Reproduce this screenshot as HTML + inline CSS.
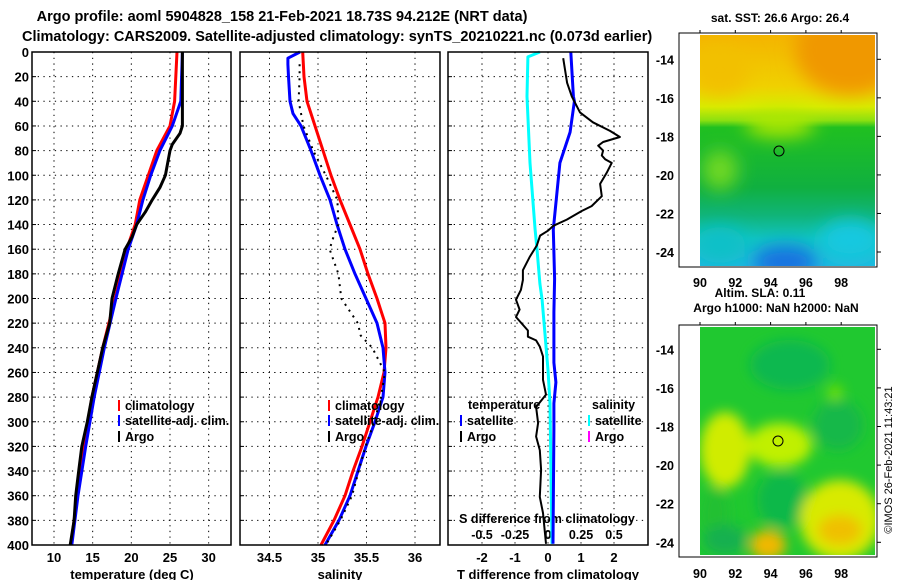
<!DOCTYPE html>
<html><head><meta charset="utf-8"><style>
body{margin:0;background:#fff;}
svg text{font-family:"Liberation Sans",sans-serif;font-weight:bold;fill:#000;}
</style></head><body>
<svg id="c" width="900" height="580" xmlns="http://www.w3.org/2000/svg">
<defs>
<filter id="blur" x="-20%" y="-20%" width="140%" height="140%"><feGaussianBlur stdDeviation="9"/></filter>
<filter id="blur2" x="-20%" y="-20%" width="140%" height="140%"><feGaussianBlur stdDeviation="6"/></filter>
<clipPath id="m1"><rect x="700" y="35" width="175" height="231"/></clipPath>
<clipPath id="m2"><rect x="700" y="327" width="175" height="228"/></clipPath>
<linearGradient id="sstg" x1="0" y1="0" x2="0" y2="1">
<stop offset="0" stop-color="#f4b400"/><stop offset="0.22" stop-color="#f0d000"/>
<stop offset="0.31" stop-color="#d8ec00"/><stop offset="0.37" stop-color="#8ce010"/>
<stop offset="0.40" stop-color="#20c020"/><stop offset="0.66" stop-color="#10b040"/>
<stop offset="0.78" stop-color="#10b478"/><stop offset="0.88" stop-color="#10c4c0"/>
<stop offset="1" stop-color="#20b8e0"/></linearGradient>
</defs>
<text x="282" y="21" font-size="14.5" text-anchor="middle">Argo profile: aoml 5904828_158 21-Feb-2021 18.73S 94.212E (NRT data)</text>
<text x="22" y="41" font-size="14.5">Climatology: CARS2009. Satellite-adjusted climatology: synTS_20210221.nc (0.073d earlier)</text>

<g id="p1"></g>
<g id="p2"></g>
<g id="p3"></g>

<g>
<text x="780" y="22" font-size="12" text-anchor="middle">sat. SST: 26.6 Argo: 26.4</text>
<g clip-path="url(#m1)">
<rect x="700" y="35" width="175" height="231" fill="url(#sstg)"/>
<g filter="url(#blur)">
<ellipse cx="850" cy="50" rx="55" ry="45" fill="#f09800"/>
<ellipse cx="720" cy="70" rx="30" ry="25" fill="#f2c000"/>
<ellipse cx="780" cy="125" rx="35" ry="12" fill="#b0e800"/>
<ellipse cx="720" cy="170" rx="18" ry="20" fill="#70d820"/>
<ellipse cx="785" cy="262" rx="32" ry="16" fill="#1470e0"/>
<ellipse cx="850" cy="240" rx="30" ry="20" fill="#18c8e0"/>
<ellipse cx="720" cy="245" rx="25" ry="18" fill="#10c0c8"/>
</g>
</g>
<rect x="679" y="33" width="198" height="234" fill="none" stroke="#000"/>
<circle cx="779" cy="151" r="5" fill="none" stroke="#000"/>
<g id="m1ax"></g>
</g>

<g>
<text x="760" y="297" font-size="12" text-anchor="middle">Altim. SLA: 0.11</text>
<text x="776" y="312" font-size="12" text-anchor="middle">Argo h1000: NaN h2000: NaN</text>
<g clip-path="url(#m2)">
<rect x="700" y="327" width="175" height="228" fill="#20c830"/>
<g filter="url(#blur2)">
<ellipse cx="790" cy="365" rx="40" ry="25" fill="#10b850"/>
<ellipse cx="780" cy="445" rx="32" ry="22" fill="#c0f000"/>
<ellipse cx="725" cy="450" rx="25" ry="38" fill="#d0ec00"/>
<ellipse cx="715" cy="515" rx="14" ry="28" fill="#20c030"/>
<ellipse cx="782" cy="500" rx="25" ry="28" fill="#10b848"/>
<ellipse cx="840" cy="520" rx="40" ry="40" fill="#d8ea00"/>
<ellipse cx="840" cy="530" rx="22" ry="15" fill="#f0c000"/>
<ellipse cx="768" cy="545" rx="18" ry="15" fill="#f0b800"/>
<ellipse cx="725" cy="540" rx="22" ry="15" fill="#18b050"/>
<ellipse cx="838" cy="425" rx="25" ry="25" fill="#18b848"/>
<ellipse cx="835" cy="393" rx="8" ry="8" fill="#70e000"/>
</g>
</g>
<rect x="679" y="325" width="198" height="232" fill="none" stroke="#000"/>
<circle cx="778" cy="441" r="5" fill="none" stroke="#000"/>
<g id="m2ax"></g>
</g>
<text transform="translate(892,460) rotate(-90)" font-size="11" style="font-weight:normal" text-anchor="middle">©IMOS 26-Feb-2021 11:43:21</text>
</svg>
<script>
// ---- data ----
const depthTicks=[0,20,40,60,80,100,120,140,160,180,200,220,240,260,280,300,320,340,360,380,400];
const tDepth=[0,40,60,80,100,120,140,160,200,240,280,320,360,400];
const tClim=[25.9,25.6,25.0,23.3,22.2,21.1,20.5,19.4,17.9,16.3,14.9,13.9,13.0,12.2];
const tSat=[26.6,26.4,25.3,23.7,22.5,21.5,20.7,19.6,18.0,16.5,15.2,14.1,13.1,12.3];
const argoTDepth=[0,60,66,75,80,90,100,110,120,130,140,150,160,180,200,220,240,260,280,300,320,340,360,380,400];
const argoT=[26.6,26.6,26.3,25.3,25.0,24.7,24.4,23.7,22.7,21.8,20.7,20.1,19.2,18.3,17.5,17.2,16.3,15.6,14.9,14.3,13.6,13.2,12.8,12.6,12.1];
const tTicks=[10,15,20,25,30];
const sDepth=[0,20,40,60,80,100,120,140,160,180,200,220,240,260,280,300,320,340,360,380,400];
const sClim=[34.842,34.856,34.887,34.969,35.052,35.134,35.227,35.330,35.433,35.515,35.608,35.691,35.701,35.680,35.619,35.536,35.454,35.361,35.278,35.165,35.031];
const sSatDepth=[0,5,10,20,40,50,60,80,100,120,140,160,180,200,220,240,260,280,300,320,340,360,380,400];
const sSat=[34.814,34.69,34.69,34.696,34.711,34.742,34.825,34.928,35.021,35.124,35.196,35.278,35.381,35.495,35.608,35.670,35.691,35.670,35.588,35.495,35.412,35.330,35.216,35.072];
const argoSDepth=[10,20,40,60,80,100,120,140,150,160,180,200,220,230,240,260,280,300,320,340,360,380,400];
const argoS=[34.81,34.81,34.80,34.85,34.95,35.08,35.20,35.21,35.16,35.12,35.21,35.24,35.41,35.44,35.56,35.69,35.65,35.58,35.49,35.42,35.35,35.23,35.08];
const sTicks=[34.5,35,35.5,36];
const dTSatDepth=[0,36,40,65,90,117,144,184,211,252,268,285,306,399];
const dTSat=[0.69,0.77,0.80,0.67,0.36,0.26,0.16,0.2,0.18,0.18,0.24,0.18,0.18,0.15];
const dSSatDepth=[0,4,36,90,144,160,188,201,258,285,399];
const dSSat=[-0.061,-0.152,-0.159,-0.136,-0.098,-0.083,-0.061,-0.045,0,0.015,0.03];
const dTArgoDepth=[5,25,36,49,57,64,69,73,76,80,84,87,90,98,107,117,125,129,136,141,145,149,157,166,177,185,193,201,209,215,226,231,234,239,247,258,266,278,288,301,312,323,339,361,374,399];
const dTArgo=[0.46,0.58,0.72,0.97,1.36,1.88,2.18,1.67,1.52,1.67,1.63,1.73,1.93,1.78,1.58,1.63,1.32,1.02,0.57,0.16,0,-0.24,-0.34,-0.55,-0.76,-0.76,-0.82,-0.97,-0.86,-0.97,-0.61,-0.61,-0.36,-0.25,-0.15,-0.15,-0.15,-0.06,-0.36,-0.3,-0.36,-0.25,-0.21,-0.25,-0.15,-0.06];
const dTTicks=[-2,-1,0,1,2];
const dSTicks=[-0.5,-0.25,0,0.25,0.5];
const dSTickLabels=["-0.5","-0.25","0","0.25","0.5"];
const lonTicks=[90,92,94,96,98];
const latTicks=[-14,-16,-18,-20,-22,-24];

// ---- scales ----
const NS='http://www.w3.org/2000/svg';
const Y=d=>52+d*1.2325;
const xT=t=>54+(t-10)*7.733;
const xS=s=>318+(s-35)*97;
const xdT=v=>548+v*33;
const xdS=v=>548+v*132;
function el(tag,attrs,parent,txt){const e=document.createElementNS(NS,tag);for(const k in attrs)e.setAttribute(k,attrs[k]);if(txt!==undefined)e.textContent=txt;parent.appendChild(e);return e;}
function poly(parent,xs,ds,fx,color,w,name,dash){
  const pts=xs.map((v,i)=>fx(v).toFixed(1)+','+Y(ds[i]).toFixed(1)).join(' ');
  const p=el('polyline',{points:pts,fill:'none',stroke:color,'stroke-width':w,'stroke-linejoin':'round'},parent);
  if(dash)p.setAttribute('stroke-dasharray',dash);
  
  
}
function panel(g,x0,x1,xticks,fx,labels){
  depthTicks.forEach(d=>{if(d>0&&d<400){const l=el('line',{x1:x0,x2:x1,y1:Y(d),y2:Y(d),stroke:'#000','stroke-dasharray':'1.3,4.4'},g);el('line',{x1:x0,x2:x0+4,y1:Y(d),y2:Y(d),stroke:'#000'},g);}});
  xticks.forEach(v=>{const x=fx(v);el('line',{x1:x,x2:x,y1:52,y2:545,stroke:'#000','stroke-dasharray':'1.3,4.4'},g);});
  if(labels) xticks.forEach((v,i)=>{const t=el('text',{x:fx(v),y:562,'font-size':13,'text-anchor':'middle'},g,labels[i]);});
}
const p1=document.getElementById('p1'),p2=document.getElementById('p2'),p3=document.getElementById('p3');
panel(p1,32,231,tTicks,xT,tTicks.map(String));
panel(p2,240,440,sTicks,xS,sTicks.map(String));
panel(p3,448,648,dTTicks,xdT,dTTicks.map(String));
depthTicks.forEach(d=>{const t=el('text',{x:29,y:Y(d)+5,'font-size':13,'text-anchor':'end'},p1,String(d));});
dSTicks.forEach((v,i)=>{const t=el('text',{x:xdS(v),y:539,'font-size':12.5,'text-anchor':'middle'},p3,dSTickLabels[i]);});
el('text',{x:547,y:523,'font-size':12.5,'text-anchor':'middle'},p3,'S difference from climatology');

// series
poly(p1,tClim,tDepth,xT,'#f00',3,'temp-climatology-line');
poly(p1,tSat,tDepth,xT,'#00f',3,'temp-satellite-line');
poly(p1,argoT,argoTDepth,xT,'#000',3,'temp-argo-line');
poly(p2,sClim,sDepth,xS,'#f00',3,'sal-climatology-line');
poly(p2,sSat,sSatDepth,xS,'#00f',3,'sal-satellite-line');
poly(p2,argoS,argoSDepth,xS,'#000',2,'sal-argo-line','2,5');
poly(p3,dSSat,dSSatDepth,xdS,'#0ff',3,'sdiff-satellite-line');
poly(p3,dTSat,dTSatDepth,xdT,'#00f',3,'tdiff-satellite-line');
poly(p3,dTArgo,dTArgoDepth,xdT,'#000',2,'tdiff-argo-line');

// frames
[[32,231],[240,440],[448,648]].forEach(([a,b])=>{const r=el('rect',{x:a,y:52,width:b-a,height:493,fill:'none',stroke:'#000','stroke-width':1.5},document.getElementById('c'));});

// axis titles
[[132,'temperature (deg C)'],[340,'salinity'],[548,'T difference from climatology']].forEach(([x,s])=>{const t=el('text',{x:x,y:579,'font-size':13,'text-anchor':'middle'},document.getElementById('c'),s);});

// legends
function leg(g,x,y,color,txt){if(color)el('rect',{x:x,y:y-10,width:2,height:11,fill:color},g);const t=el('text',{x:x+7,y:y,'font-size':12.5},g,txt);}
leg(p1,118,410,'#f00','climatology');leg(p1,118,425,'#00f','satellite-adj. clim.');leg(p1,118,441,'#000','Argo');
leg(p2,328,410,'#f00','climatology');leg(p2,328,425,'#00f','satellite-adj. clim.');leg(p2,328,441,'#000','Argo');
leg(p3,461,409,null,'temperature');leg(p3,460,425,'#00f','satellite');leg(p3,460,441,'#000','Argo');
leg(p3,585,409,null,'salinity');leg(p3,588,425,'#0ff','satellite');leg(p3,588,441,'#f0f','Argo');

// map axes
function mapAx(g,top,bot,latY0,latStep,lblY){
  lonTicks.forEach(l=>{const x=700+(l-90)*17.65;el('line',{x1:x,x2:x,y1:top-3,y2:top,stroke:'#000'},g);const t=el('text',{x:x,y:lblY,'font-size':12.5,'text-anchor':'middle'},g,String(l));});
  latTicks.forEach((l,i)=>{const y=latY0+(-14-l)*latStep;el('line',{x1:877,x2:881,y1:y,y2:y,stroke:'#000'},g);const t=el('text',{x:674,y:y+5,'font-size':12.5,'text-anchor':'end'},g,String(l));});
}
mapAx(document.getElementById('m1ax'),33,267,59.3,19.27,287);
mapAx(document.getElementById('m2ax'),325,557,349.3,19.3,578);
</script>
</body></html>
